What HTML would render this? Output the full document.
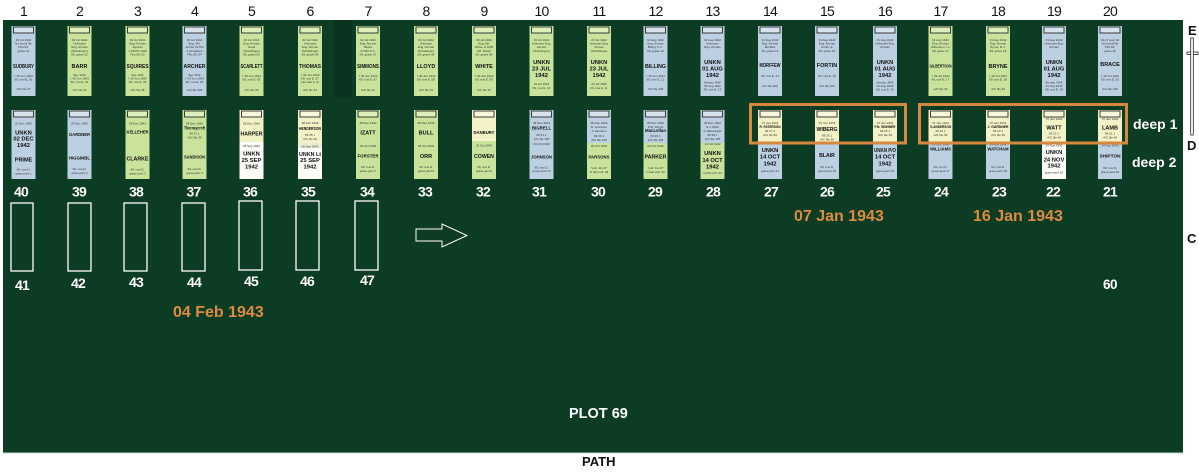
<!DOCTYPE html>
<html><head><meta charset="utf-8"><title>Plot 69</title>
<style>
html,body{margin:0;padding:0;background:#fff;width:1199px;height:472px;overflow:hidden}
svg{display:block}
.s{font-size:3px;fill:#333;text-anchor:middle}
.b{font-weight:bold;fill:#111;text-anchor:middle}
.num{font-size:14px;fill:#111;text-anchor:middle;letter-spacing:-0.8px}
.wn{font-size:14px;font-weight:bold;fill:#fff;text-anchor:middle;letter-spacing:-0.8px}
.dt{font-size:16px;font-weight:bold;fill:#de8a3f}
</style></head>
<body>
<svg width="1199" height="472" viewBox="0 0 1199 472" xmlns="http://www.w3.org/2000/svg" font-family="'Liberation Sans', Arial, sans-serif">
<defs>
<symbol id="tabB" overflow="visible"><rect x="2" y="1" width="20" height="6" fill="#d6e2ec" stroke="#2b2b2b" stroke-width=".9"/></symbol>
<symbol id="tabG" overflow="visible"><rect x="2" y="1" width="20" height="6" fill="#dcefb8" stroke="#2b2b2b" stroke-width=".9"/></symbol>
<symbol id="tabY" overflow="visible"><rect x="2" y="1" width="20" height="6" fill="#f8f7dc" stroke="#2b2b2b" stroke-width=".9"/></symbol>
</defs>

<!-- green plot -->
<rect x="3" y="20" width="1180" height="433" fill="#0d3c24"/>
<rect x="334" y="20" width="18" height="78" fill="#0a3320"/>
<rect x="3" y="452" width="1180" height="1.2" fill="#6e8a79"/>

<!-- column numbers -->
<g class="num">
<text x="23.5" y="16">1</text><text x="79.5" y="16">2</text><text x="137.5" y="16">3</text><text x="194.5" y="16">4</text><text x="251.5" y="16">5</text>
<text x="310" y="16">6</text><text x="368" y="16">7</text><text x="426" y="16">8</text><text x="484" y="16">9</text><text x="541.5" y="16">10</text>
<text x="599" y="16">11</text><text x="655.5" y="16">12</text><text x="712.5" y="16">13</text><text x="770" y="16">14</text><text x="827" y="16">15</text>
<text x="885" y="16">16</text><text x="940.5" y="16">17</text><text x="998" y="16">18</text><text x="1054" y="16">19</text><text x="1110" y="16">20</text>
</g>

<!-- TOP ROW (row E) -->
<g transform="translate(11.5,26)"><rect width="24" height="70" fill="#bdd0e1"/><use href="#tabB"/>
<text class="s" x="12" y="15">03 Jul 1942</text><text class="s" x="12" y="18.6">No burial file</text><text class="s" x="12" y="22.2">Plot 69,</text><text class="s" x="12" y="25.8">grave 01</text>
<text class="b" x="12" y="42" font-size="5.5" textLength="21" lengthAdjust="spacingAndGlyphs">SUDBURY</text>
<text class="s" x="12" y="51">† 30 Jun 1942</text><text class="s" x="12" y="54.6">69, row E, 01</text><text class="s" x="12" y="64">A/C file 67</text></g>

<g transform="translate(67.5,26)"><rect width="24" height="70" fill="#c9e39c"/><use href="#tabG"/>
<text class="s" x="12" y="15">03 Jul 1942</text><text class="s" x="12" y="18.6">Unknown</text><text class="s" x="12" y="22.2">Eng. Airman</text><text class="s" x="12" y="25.8">(Schellinger)</text><text class="s" x="12" y="29.4">69, grave 02</text>
<text class="b" x="12" y="42" font-size="5.5">BARR</text>
<text class="s" x="12" y="50">Sgt. RAF</text><text class="s" x="12" y="53.6">† 30 Jun 1942</text><text class="s" x="12" y="57.2">69, row E, 02</text><text class="s" x="12" y="65">A/C file 33</text></g>

<g transform="translate(125.5,26)"><rect width="24" height="70" fill="#c9e39c"/><use href="#tabG"/>
<text class="s" x="12" y="15">03 Jul 1942</text><text class="s" x="12" y="18.6">Eng. Airman</text><text class="s" x="12" y="22.2">Squires</text><text class="s" x="12" y="25.8">1.10672-1018</text><text class="s" x="12" y="29.4">Plot 69, 03</text>
<text class="b" x="12" y="42" font-size="5.5" textLength="22" lengthAdjust="spacingAndGlyphs">SQUIRES</text>
<text class="s" x="12" y="50">Sgt. RAF</text><text class="s" x="12" y="53.6">† 30 Jun 1942</text><text class="s" x="12" y="57.2">69, row E, 03</text><text class="s" x="12" y="65">A/C file 28</text></g>

<g transform="translate(182.5,26)"><rect width="24" height="70" fill="#bdd0e1"/><use href="#tabB"/>
<text class="s" x="12" y="15">03 Jul 1942</text><text class="s" x="12" y="18.6">Eng. Mil.</text><text class="s" x="12" y="22.2">Archer 01702</text><text class="s" x="12" y="25.8">1 (Umsiden)</text><text class="s" x="12" y="29.4">Plot 69, 04</text>
<text class="b" x="12" y="42" font-size="5.5" textLength="22" lengthAdjust="spacingAndGlyphs">ARCHER</text>
<text class="s" x="12" y="50">Sgt. RAF</text><text class="s" x="12" y="53.6">† 03 Jun 1942</text><text class="s" x="12" y="57.2">69, row E, 04</text><text class="s" x="12" y="65">A/C file 233</text></g>

<g transform="translate(239.5,26)"><rect width="24" height="70" fill="#c9e39c"/><use href="#tabG"/>
<text class="s" x="12" y="15">03 Jul 1942</text><text class="s" x="12" y="18.6">Eng. Airman</text><text class="s" x="12" y="22.2">Good</text><text class="s" x="12" y="25.8">(Schellinger)</text><text class="s" x="12" y="29.4">69, grave 05</text>
<text class="b" x="12" y="42" font-size="5.5" textLength="22" lengthAdjust="spacingAndGlyphs">SCARLETT</text>
<text class="s" x="12" y="51">† 30 Jun 1942</text><text class="s" x="12" y="54.6">69, row E, 05</text><text class="s" x="12" y="65">A/C file 33</text></g>

<g transform="translate(298,26)"><rect width="24" height="70" fill="#c9e39c"/><use href="#tabG"/>
<text class="s" x="12" y="15">03 Jul 1942</text><text class="s" x="12" y="18.6">Unknown</text><text class="s" x="12" y="22.2">Eng. Airman</text><text class="s" x="12" y="25.8">(Schellinger)</text><text class="s" x="12" y="29.4">69, grave 06</text>
<text class="b" x="12" y="42" font-size="5.5" textLength="22" lengthAdjust="spacingAndGlyphs">THOMAS</text>
<text class="s" x="12" y="50">† 30 Jun 1942</text><text class="s" x="12" y="53.6">69, row E, 27</text><text class="s" x="12" y="57.2">(as shot in 2)</text><text class="s" x="12" y="65">A/C file 31</text></g>

<g transform="translate(356,26)"><rect width="24" height="70" fill="#c9e39c"/><use href="#tabG"/>
<text class="s" x="12" y="15">03 Jul 1942</text><text class="s" x="12" y="18.6">Eng. Airman</text><text class="s" x="12" y="22.2">Mears</text><text class="s" x="12" y="25.8">37309 R.A.</text><text class="s" x="12" y="29.4">69, grave 07</text>
<text class="b" x="12" y="42" font-size="5.5" textLength="22" lengthAdjust="spacingAndGlyphs">SIMMONS</text>
<text class="s" x="12" y="51">† 30 Jun 1942</text><text class="s" x="12" y="54.6">69, row E, 07</text><text class="s" x="12" y="65">A/C file 31</text></g>

<g transform="translate(414,26)"><rect width="24" height="70" fill="#c9e39c"/><use href="#tabG"/>
<text class="s" x="12" y="15">03 Jul 1942</text><text class="s" x="12" y="18.6">Unknown</text><text class="s" x="12" y="22.2">Eng. Airman</text><text class="s" x="12" y="25.8">(Schellinger)</text><text class="s" x="12" y="29.4">69, grave 08</text>
<text class="b" x="12" y="42" font-size="5.5">LLOYD</text>
<text class="s" x="12" y="51">† 30 Jun 1942</text><text class="s" x="12" y="54.6">69, row E, 08</text><text class="s" x="12" y="65">A/C file 31</text></g>

<g transform="translate(472,26)"><rect width="24" height="70" fill="#c9e39c"/><use href="#tabG"/>
<text class="s" x="12" y="15">09 Jul 1942</text><text class="s" x="12" y="18.6">Eng. Mil.</text><text class="s" x="12" y="22.2">White, A 1065</text><text class="s" x="12" y="25.8">Off. RCAF</text><text class="s" x="12" y="29.4">69, grave 09</text>
<text class="b" x="12" y="42" font-size="5.5">WHITE</text>
<text class="s" x="12" y="51">† 30 Jun 1942</text><text class="s" x="12" y="54.6">69, row E, 09</text><text class="s" x="12" y="65">A/C file 31</text></g>

<g transform="translate(529.5,26)"><rect width="24" height="70" fill="#c9e39c"/><use href="#tabG"/>
<text class="s" x="12" y="15">23 Jul 1942</text><text class="s" x="12" y="18.6">Unknown Eng.</text><text class="s" x="12" y="22.2">Airman</text><text class="s" x="12" y="25.8">(Schellinger)</text>
<text class="b" x="12" y="38" font-size="5.8">UNKN</text><text class="b" x="12" y="44.6" font-size="5.8">23 JUL</text><text class="b" x="12" y="51.2" font-size="5.8">1942</text>
<text class="s" x="12" y="59">23 Jul 1942</text><text class="s" x="12" y="63">69, row E, 10</text></g>

<g transform="translate(587,26)"><rect width="24" height="70" fill="#c9e39c"/><use href="#tabG"/>
<text class="s" x="12" y="15">23 Jul 1942</text><text class="s" x="12" y="18.6">Unknown Eng.</text><text class="s" x="12" y="22.2">Airman</text><text class="s" x="12" y="25.8">(Schellinger)</text>
<text class="b" x="12" y="38" font-size="5.8">UNKN</text><text class="b" x="12" y="44.6" font-size="5.8">23 JUL</text><text class="b" x="12" y="51.2" font-size="5.8">1942</text>
<text class="s" x="12" y="59">23 Jul 1942</text><text class="s" x="12" y="63">69, row E, 11</text></g>

<g transform="translate(643.5,26)"><rect width="24" height="70" fill="#bdd0e1"/><use href="#tabB"/>
<text class="s" x="12" y="15">01 Aug 1942</text><text class="s" x="12" y="18.6">Eng. Airman</text><text class="s" x="12" y="22.2">Billing, K.C.</text><text class="s" x="12" y="25.8">69, grave 12</text>
<text class="b" x="12" y="42" font-size="5.5" textLength="21" lengthAdjust="spacingAndGlyphs">BILLING</text>
<text class="s" x="12" y="51">† 30 Jun 1942</text><text class="s" x="12" y="54.6">69, row E, 12</text><text class="s" x="12" y="64">A/C file 206</text></g>

<g transform="translate(700.5,26)"><rect width="24" height="70" fill="#bdd0e1"/><use href="#tabB"/>
<text class="s" x="12" y="15">01 Aug 1942</text><text class="s" x="12" y="18.6">Unknown</text><text class="s" x="12" y="22.2">Eng. Airman</text>
<text class="b" x="12" y="38" font-size="5.8">UNKN</text><text class="b" x="12" y="44.6" font-size="5.8">01 AUG</text><text class="b" x="12" y="51.2" font-size="5.8">1942</text>
<text class="s" x="12" y="57.5">Airman, RAF</text><text class="s" x="12" y="61">01 Aug 1942</text><text class="s" x="12" y="64.5">69, row E, 13</text></g>

<g transform="translate(758,26)"><rect width="24" height="70" fill="#bdd0e1"/><use href="#tabB"/>
<text class="s" x="12" y="15">01 Aug 1942</text><text class="s" x="12" y="18.6">Eng. Airman</text><text class="s" x="12" y="22.2">Morffew</text><text class="s" x="12" y="25.8">69, grave 14</text>
<text class="b" x="12" y="41" font-size="5.2" textLength="21" lengthAdjust="spacingAndGlyphs">MORFFEW</text>
<text class="s" x="12" y="51">69, row E, 14</text><text class="s" x="12" y="61">A/C file 220</text></g>

<g transform="translate(815,26)"><rect width="24" height="70" fill="#bdd0e1"/><use href="#tabB"/>
<text class="s" x="12" y="15">01 Aug 1942</text><text class="s" x="12" y="18.6">Eng. Airman</text><text class="s" x="12" y="22.2">Fortin, E</text><text class="s" x="12" y="25.8">69, grave 15</text>
<text class="b" x="12" y="41" font-size="5.5">FORTIN</text>
<text class="s" x="12" y="51">69, row E, 15</text><text class="s" x="12" y="61">A/C file 220</text></g>

<g transform="translate(873,26)"><rect width="24" height="70" fill="#bdd0e1"/><use href="#tabB"/>
<text class="s" x="12" y="15">01 Aug 1942</text><text class="s" x="12" y="18.6">Unknown Eng.</text><text class="s" x="12" y="22.2">Airman</text>
<text class="b" x="12" y="38" font-size="5.8">UNKN</text><text class="b" x="12" y="44.6" font-size="5.8">01 AUG</text><text class="b" x="12" y="51.2" font-size="5.8">1942</text>
<text class="s" x="12" y="57.5">Airman, RAF</text><text class="s" x="12" y="61">01 Aug 1942</text><text class="s" x="12" y="64.5">69, row E, 16</text></g>

<g transform="translate(928.5,26)"><rect width="24" height="70" fill="#c9e39c"/><use href="#tabG"/>
<text class="s" x="12" y="15">01 Aug 1942</text><text class="s" x="12" y="18.6">Eng. Airman</text><text class="s" x="12" y="22.2">Gilbertson, I.J.</text><text class="s" x="12" y="25.8">69, grave 17</text>
<text class="b" x="12" y="41.5" font-size="4.2" textLength="22" lengthAdjust="spacingAndGlyphs">GILBERTSON</text>
<text class="s" x="12" y="51">† 29 Jul 1942</text><text class="s" x="12" y="54.6">69, row E, 17</text><text class="s" x="12" y="64">A/C file 32</text></g>

<g transform="translate(986,26)"><rect width="24" height="70" fill="#c9e39c"/><use href="#tabG"/>
<text class="s" x="12" y="15">01 Aug 1942</text><text class="s" x="12" y="18.6">Eng. Airman</text><text class="s" x="12" y="22.2">Byrne, M.J.</text><text class="s" x="12" y="25.8">69, grave 18</text>
<text class="b" x="12" y="42" font-size="5.5">BRYNE</text>
<text class="s" x="12" y="51">† 29 Jul 1942</text><text class="s" x="12" y="54.6">69, row E, 18</text><text class="s" x="12" y="64">A/C file 32</text></g>

<g transform="translate(1042,26)"><rect width="24" height="70" fill="#bdd0e1"/><use href="#tabB"/>
<text class="s" x="12" y="15">01 Aug 1942</text><text class="s" x="12" y="18.6">Unknown Eng.</text><text class="s" x="12" y="22.2">Airman</text>
<text class="b" x="12" y="38" font-size="5.8">UNKN</text><text class="b" x="12" y="44.6" font-size="5.8">01 AUG</text><text class="b" x="12" y="51.2" font-size="5.8">1942</text>
<text class="s" x="12" y="57.5">Airman, RAF</text><text class="s" x="12" y="61">01 Aug 1942</text><text class="s" x="12" y="64.5">69, row E, 19</text></g>

<g transform="translate(1098,26)"><rect width="24" height="70" fill="#bdd0e1"/><use href="#tabB"/>
<text class="s" x="12" y="15">01-17 Aug '42</text><text class="s" x="12" y="18.6">No burial file</text><text class="s" x="12" y="22.2">Plot 69,</text><text class="s" x="12" y="25.8">grave 20</text>
<text class="b" x="12" y="40" font-size="5.5">BRACE</text>
<text class="s" x="12" y="51">† 29 Jul 1942</text><text class="s" x="12" y="54.6">69, row E, 20</text><text class="s" x="12" y="64">A/C file 236</text></g>

<!-- BOTTOM ROW (row D) -->
<g transform="translate(11.5,110)"><rect width="24" height="69" fill="#bdd0e1"/><use href="#tabB"/>
<text class="s" x="12" y="14.5">02 Dec 1942</text>
<text class="b" x="12" y="24.5" font-size="5.8">UNKN</text><text class="b" x="12" y="30.7" font-size="5.8">02 DEC</text><text class="b" x="12" y="36.9" font-size="5.8">1942</text>
<text class="b" x="12" y="51.5" font-size="5.5">PRIME</text>
<text class="s" x="12" y="60.5">69, row D,</text><text class="s" x="12" y="64.3">grave joint 1</text></g>

<g transform="translate(67.5,110)"><rect width="24" height="69" fill="#bdd0e1"/><use href="#tabB"/>
<text class="s" x="12" y="14.5">03 Dec 1942</text>
<text class="b" x="12" y="26" font-size="4.8" textLength="21" lengthAdjust="spacingAndGlyphs">GARDNER</text>
<text class="b" x="12" y="49.5" font-size="4.8" textLength="21" lengthAdjust="spacingAndGlyphs">HIGGINBL</text>
<text class="s" x="12" y="60">69, row D,</text><text class="s" x="12" y="63.8">grave joint 2</text></g>

<g transform="translate(125.5,110)"><rect width="24" height="69" fill="#c9e39c"/><use href="#tabG"/>
<text class="s" x="12" y="14.5">28 Dec 1942</text>
<text class="b" x="12" y="23.5" font-size="4.8" textLength="22" lengthAdjust="spacingAndGlyphs">KELLEHER</text>
<text class="b" x="12" y="50.5" font-size="5.5" textLength="22" lengthAdjust="spacingAndGlyphs">CLARKE</text>
<text class="s" x="12" y="60.5">69, row D,</text><text class="s" x="12" y="64.3">grave joint 3</text></g>

<g transform="translate(182.5,110)"><rect width="24" height="69" fill="#c9e39c"/><use href="#tabG"/>
<text class="s" x="12" y="14.5">28 Dec 1942</text>
<text class="b" x="12" y="19.5" font-size="4.2" textLength="21" lengthAdjust="spacingAndGlyphs">Thorneycroft</text>
<text class="s" x="12" y="24.5">69 37 1</text><text class="s" x="12" y="28.3">A/C file 39</text>
<text class="b" x="12" y="48.5" font-size="4.8" textLength="21" lengthAdjust="spacingAndGlyphs">SANDISON</text>
<text class="s" x="12" y="60">69, row D,</text><text class="s" x="12" y="63.8">grave joint 4</text></g>

<g transform="translate(239.5,110)"><rect width="24" height="69" fill="#fbfbf7"/><rect width="24" height="32" fill="#f3f1c6"/><use href="#tabY"/>
<text class="s" x="12" y="14.5">28 Dec 1942</text>
<text class="b" x="12" y="25.5" font-size="5.5" textLength="22" lengthAdjust="spacingAndGlyphs">HARPER</text>
<text class="s" x="12" y="36.8">26 Sep 1942</text>
<text class="b" x="12" y="45.5" font-size="5.8">UNKN</text><text class="b" x="12" y="52" font-size="5.8">25 SEP</text><text class="b" x="12" y="58.7" font-size="5.8">1942</text></g>

<g transform="translate(298,110)"><rect width="24" height="69" fill="#fbfbf7"/><rect y="33" width="24" height="5" fill="#ecebd3"/><rect width="24" height="33" fill="#f3f1c6"/><use href="#tabY"/>
<text class="s" x="12" y="13.8">28 Dec 1942</text>
<text class="b" x="12" y="19.8" font-size="4.2" textLength="22" lengthAdjust="spacingAndGlyphs">HENDERSON</text>
<text class="s" x="12" y="26">69 35 1</text><text class="s" x="12" y="30">A/C file 40</text>
<text class="s" x="12" y="37.5">25 Sep 1942</text>
<text class="b" x="12" y="46" font-size="5.8" textLength="22" lengthAdjust="spacingAndGlyphs">UNKN Lt</text><text class="b" x="12" y="52.2" font-size="5.8">25 SEP</text><text class="b" x="12" y="58.7" font-size="5.8">1942</text></g>

<g transform="translate(356,110)"><rect width="24" height="69" fill="#c9e39c"/><use href="#tabG"/>
<text class="s" x="12" y="14">28 Dec 1942</text>
<text class="b" x="12" y="24.7" font-size="5.5">IZATT</text>
<text class="s" x="12" y="37">03 Oct 1942</text>
<text class="b" x="12" y="47.5" font-size="4.8" textLength="21" lengthAdjust="spacingAndGlyphs">FORSTER</text>
<text class="s" x="12" y="58">69, row D,</text><text class="s" x="12" y="62">grave joint 7</text></g>

<g transform="translate(414,110)"><rect width="24" height="69" fill="#c9e39c"/><use href="#tabG"/>
<text class="s" x="12" y="14">28 Dec 1942</text>
<text class="b" x="12" y="24.5" font-size="5.5">BULL</text>
<text class="s" x="12" y="37">03 Oct 1942</text>
<text class="b" x="12" y="48" font-size="5.5">ORR</text>
<text class="s" x="12" y="58">69, row D,</text><text class="s" x="12" y="62">grave joint 8</text></g>

<g transform="translate(472,110)"><rect width="24" height="69" fill="#c9e39c"/><rect width="24" height="31" fill="#f3f1c6"/><use href="#tabY"/>
<text class="b" x="12" y="24" font-size="4.6" textLength="21" lengthAdjust="spacingAndGlyphs">DANBURY</text>
<text class="s" x="12" y="36.5">03 Oct 1942</text>
<text class="b" x="12" y="48" font-size="5.2">COWEN</text>
<text class="s" x="12" y="58">69, row D,</text><text class="s" x="12" y="62">grave joint 9</text></g>

<g transform="translate(529.5,110)"><rect width="24" height="69" fill="#bdd0e1"/><use href="#tabB"/>
<text class="s" x="12" y="13.8">28 Dec 1942</text>
<text class="b" x="12" y="19.7" font-size="4.4">BIGRELL</text>
<text class="s" x="12" y="26">69 31 1</text><text class="s" x="12" y="30">A/C file 105</text>
<text class="s" x="12" y="35">03 Oct 1942</text>
<text class="b" x="12" y="48.5" font-size="4.6" textLength="21" lengthAdjust="spacingAndGlyphs">JOHNSON</text>
<text class="s" x="12" y="58.5">69, row D,</text><text class="s" x="12" y="62.2">grave joint 10</text></g>

<g transform="translate(587,110)"><rect width="24" height="69" fill="#c9e39c"/><rect width="24" height="33" fill="#bdd0e1"/><use href="#tabB"/>
<text class="s" x="12" y="13.8">28 Dec 1942</text><text class="s" x="12" y="17.8">E. Johnston</text><text class="s" x="12" y="21.8">A.Johnston</text>
<text class="s" x="12" y="27">69 30 1</text><text class="s" x="12" y="31">A/C file 105</text>
<text class="s" x="12" y="36.8">03 Oct 1942</text>
<text class="b" x="12" y="48.5" font-size="4.6" textLength="21" lengthAdjust="spacingAndGlyphs">PARSONS</text>
<text class="s" x="12" y="58.8">*coll. 11-13*</text><text class="s" x="12" y="62.8">in fact coll. 33</text></g>

<g transform="translate(643.5,110)"><rect width="24" height="69" fill="#c9e39c"/><rect width="24" height="33" fill="#bdd0e1"/><use href="#tabB"/>
<text class="s" x="12" y="13.8">28 Dec 1942</text><text class="s" x="12" y="17.8">F/Sf. Morris</text>
<text class="b" x="12" y="21.8" font-size="4.4" textLength="21" lengthAdjust="spacingAndGlyphs">MacLellan</text>
<text class="s" x="12" y="27">69 29 1</text><text class="s" x="12" y="31">A/C file 105</text>
<text class="s" x="12" y="36.8">03 Oct 1942</text>
<text class="b" x="12" y="48.6" font-size="5.2" textLength="22" lengthAdjust="spacingAndGlyphs">PARKER</text>
<text class="s" x="12" y="58.8">*coll. 11-13*</text><text class="s" x="12" y="62.8">in fact coll. 33</text></g>

<g transform="translate(700.5,110)"><rect width="24" height="69" fill="#c9e39c"/><rect width="24" height="33" fill="#bdd0e1"/><use href="#tabB"/>
<text class="s" x="12" y="13.8">28 Dec 1942</text><text class="s" x="12" y="17.8">S.J. Wish</text><text class="s" x="12" y="21.8">G Wainwright</text>
<text class="s" x="12" y="26">69 28 1</text><text class="s" x="12" y="30">A/C file 105</text>
<text class="s" x="12" y="35.2">14 Oct 1942</text>
<text class="b" x="12" y="45" font-size="5.8">UNKN</text><text class="b" x="12" y="52" font-size="5.8">14 OCT</text><text class="b" x="12" y="58.7" font-size="5.8">1942</text>
<text class="s" x="12" y="64">in fact coll. 33</text></g>

<g transform="translate(758,110)"><rect width="24" height="69" fill="#bdd0e1"/><rect width="24" height="33" fill="#f3f1c6"/><use href="#tabY"/>
<text class="s" x="12" y="13.8">07 Jan 1943</text>
<text class="b" x="12" y="17.8" font-size="3.2" textLength="21" lengthAdjust="spacingAndGlyphs">R. PATERSON</text>
<text class="s" x="12" y="21.8">69 27 1</text><text class="s" x="12" y="25.8">A/C file 69</text>
<text class="b" x="12" y="42" font-size="5.8">UNKN</text><text class="b" x="12" y="48.7" font-size="5.8">14 OCT</text><text class="b" x="12" y="55.3" font-size="5.8">1942</text>
<text class="s" x="12" y="62">grave joint 14</text></g>

<g transform="translate(815,110)"><rect width="24" height="69" fill="#bdd0e1"/><rect width="24" height="33" fill="#f3f1c6"/><use href="#tabY"/>
<text class="s" x="12" y="13.8">07 Jan 1943</text>
<text class="b" x="12" y="20.8" font-size="5" textLength="21" lengthAdjust="spacingAndGlyphs">WIBERG</text>
<text class="s" x="12" y="26.4">69 26 1</text><text class="s" x="12" y="30.4">A/C file 69</text>
<text class="b" x="12" y="47" font-size="5.2">BLAIR</text>
<text class="s" x="12" y="57.8">69, row D,</text><text class="s" x="12" y="61.8">grave joint 15</text></g>

<g transform="translate(873,110)"><rect width="24" height="69" fill="#bdd0e1"/><rect width="24" height="33" fill="#f3f1c6"/><use href="#tabY"/>
<text class="s" x="12" y="13.8">07 Jan 1943</text>
<text class="b" x="12" y="17.8" font-size="3.2" textLength="21" lengthAdjust="spacingAndGlyphs">F.N. SKINNER</text>
<text class="s" x="12" y="21.8">69 25 1</text><text class="s" x="12" y="25.8">A/C file 69</text>
<text class="b" x="12" y="42" font-size="5.4" textLength="22" lengthAdjust="spacingAndGlyphs">UNKN P/O</text><text class="b" x="12" y="48.7" font-size="5.8">14 OCT</text><text class="b" x="12" y="55.3" font-size="5.8">1942</text>
<text class="s" x="12" y="62">grave joint 16</text></g>

<g transform="translate(928.5,110)"><rect width="24" height="69" fill="#bdd0e1"/><rect width="24" height="33" fill="#f3f1c6"/><use href="#tabY"/>
<text class="s" x="12" y="13.8">07 Jan 1943</text>
<text class="b" x="12" y="17.8" font-size="3.2" textLength="21" lengthAdjust="spacingAndGlyphs">G.ANDERSON</text>
<text class="s" x="12" y="21.8">69 24 1</text><text class="s" x="12" y="25.8">A/C file 69</text>
<text class="s" x="12" y="35.5">28 Nov 1942</text>
<text class="b" x="12" y="40.5" font-size="4.4" textLength="21" lengthAdjust="spacingAndGlyphs">WILLIAMS</text>
<text class="s" x="12" y="57.8">69, row D,</text><text class="s" x="12" y="61.8">grave joint 17</text></g>

<g transform="translate(986,110)"><rect width="24" height="69" fill="#bdd0e1"/><rect width="24" height="33" fill="#f3f1c6"/><use href="#tabY"/>
<text class="s" x="12" y="13.8">07 Jan 1943</text>
<text class="b" x="12" y="17.8" font-size="3.2" textLength="21" lengthAdjust="spacingAndGlyphs">J. GARDNER</text>
<text class="s" x="12" y="21.8">69 23 1</text><text class="s" x="12" y="25.8">A/C file 69</text>
<text class="s" x="12" y="35.5">24 Nov 1942</text>
<text class="b" x="12" y="40.5" font-size="4.4" textLength="21" lengthAdjust="spacingAndGlyphs">WATCHAM</text>
<text class="s" x="12" y="57.8">69, row D,</text><text class="s" x="12" y="61.8">grave joint 18</text></g>

<g transform="translate(1042,110)"><rect width="24" height="69" fill="#fbfbf7"/><rect width="24" height="33" fill="#f3f1c6"/><use href="#tabY"/>
<text class="s" x="12" y="10">07 Jan 1943</text>
<text class="b" x="12" y="19.7" font-size="5.5">WATT</text>
<text class="s" x="12" y="24.4">69 22 1</text><text class="s" x="12" y="28.4">A/C file 69</text>
<text class="s" x="12" y="36.6">24 Nov 1942</text>
<text class="b" x="12" y="43.8" font-size="5.8">UNKN</text><text class="b" x="12" y="51.3" font-size="5.8">24 NOV</text><text class="b" x="12" y="57.7" font-size="5.8">1942</text>
<text class="s" x="12" y="63.4">grave joint 19</text></g>

<g transform="translate(1098,110)"><rect width="24" height="69" fill="#bdd0e1"/><rect width="24" height="33" fill="#f3f1c6"/><use href="#tabY"/>
<text class="s" x="12" y="10">07 Jan 1943</text>
<text class="b" x="12" y="19.7" font-size="5.5">LAMB</text>
<text class="s" x="12" y="24.4">69 21 1</text><text class="s" x="12" y="28.4">A/C file 69</text>
<text class="s" x="12" y="36.6">24 Nov 1942</text>
<text class="b" x="12" y="47.5" font-size="4.6" textLength="21" lengthAdjust="spacingAndGlyphs">SHIPTON</text>
<text class="s" x="12" y="59">69, row D,</text><text class="s" x="12" y="63">grave joint 20</text></g>

<!-- orange groups -->
<rect x="750.5" y="104.5" width="155" height="38.5" fill="none" stroke="#d4893f" stroke-width="3"/>
<rect x="919.5" y="104.5" width="207" height="38.5" fill="none" stroke="#d4893f" stroke-width="3"/>

<!-- grave numbers row D -->
<g class="wn">
<text x="21" y="196.5">40</text><text x="79" y="196.5">39</text><text x="136" y="196.5">38</text><text x="193.5" y="196.5">37</text><text x="250" y="196.5">36</text>
<text x="308" y="196.5">35</text><text x="367" y="196.5">34</text><text x="425" y="196.5">33</text><text x="483" y="196.5">32</text><text x="539" y="196.5">31</text>
<text x="598" y="196.5">30</text><text x="655" y="196.5">29</text><text x="713" y="196.5">28</text><text x="771" y="196.5">27</text><text x="827" y="196.5">26</text>
<text x="883" y="196.5">25</text><text x="941" y="196.5">24</text><text x="999" y="196.5">23</text><text x="1053" y="196.5">22</text><text x="1110" y="196.5">21</text>
</g>

<!-- empty graves row C -->
<g fill="none" stroke="#fff" stroke-width="1.3">
<rect x="11" y="203" width="22" height="68"/>
<rect x="68" y="203" width="23" height="68"/>
<rect x="124" y="203" width="23" height="68"/>
<rect x="182" y="203" width="23" height="68"/>
<rect x="239" y="201" width="23" height="69"/>
<rect x="296" y="201" width="23" height="69"/>
<rect x="355" y="201" width="23" height="69"/>
</g>
<g class="wn">
<text x="22" y="290">41</text><text x="78" y="288">42</text><text x="136" y="287">43</text><text x="194" y="287">44</text>
<text x="251" y="286">45</text><text x="307" y="286">46</text><text x="367" y="285">47</text>
</g>

<!-- arrow -->
<polygon points="416,229 442,229 442,224 467,235.5 442,247 442,241 416,241" fill="none" stroke="#fff" stroke-width="1"/>

<!-- dates -->
<text class="dt" x="794" y="221">07 Jan 1943</text>
<text class="dt" x="973" y="221">16 Jan 1943</text>
<text class="dt" x="173" y="317">04 Feb 1943</text>

<!-- labels -->
<text x="1133" y="129" font-size="14" font-weight="bold" fill="#fff">deep 1</text>
<text x="1132" y="167" font-size="14" font-weight="bold" fill="#fff">deep 2</text>
<text x="1103" y="289" font-size="13.5" font-weight="bold" fill="#fff" letter-spacing="-0.5">60</text>
<text x="569" y="418" font-size="14.5" font-weight="bold" fill="#fff">PLOT 69</text>
<text x="582" y="466" font-size="13" font-weight="bold" fill="#111">PATH</text>

<!-- row markers E / D / C -->
<text x="1188" y="35" font-size="13" font-weight="bold" fill="#111">E</text>
<rect x="1187" y="52" width="11" height="2.4" fill="#fff" stroke="#222" stroke-width=".8"/>
<rect x="1190.7" y="38" width="2.6" height="97" fill="#fff" stroke="#222" stroke-width=".8"/>
<text x="1187" y="150" font-size="13" font-weight="bold" fill="#111">D</text>
<text x="1187" y="243" font-size="13" font-weight="bold" fill="#111">C</text>
</svg>
</body></html>
